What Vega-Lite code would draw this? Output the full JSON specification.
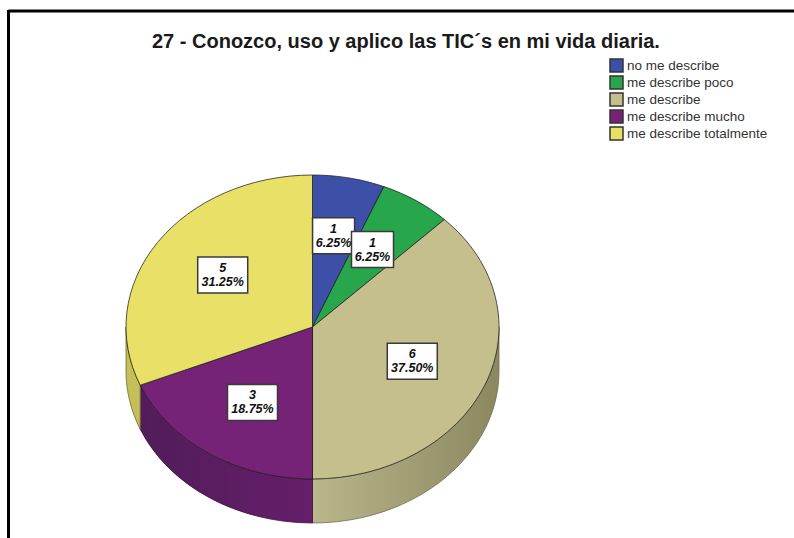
{
"$schema":"https://vega.github.io/schema/vega-lite/v6.json",
"width":794,"height":538,"padding":0,"autosize":{"type":"none"},"background":"white",
"config":{"view":{"stroke":null}},
"title":{"text":"27 - Conozco, uso y aplico las TIC´s en mi vida diaria.","anchor":"start","frame":"group","dx":152,"offset":-68,"baseline":"alphabetic","font":"Liberation Sans","fontSize":20,"fontWeight":"bold","color":"#1a1a1a"},
"data":{"values":[
{"categoria":"no me describe","conteo":1,"orden":1},
{"categoria":"me describe poco","conteo":1,"orden":2},
{"categoria":"me describe","conteo":6,"orden":3},
{"categoria":"me describe mucho","conteo":3,"orden":4},
{"categoria":"me describe totalmente","conteo":5,"orden":5}
]},
"transform":[
{"stack":"conteo","groupby":[],"sort":[{"field":"orden","order":"ascending"}],"as":["s0","s1"]},
{"calculate":"2*PI*datum.s0/16","as":"a0"},
{"calculate":"2*PI*datum.s1/16","as":"a1"},
{"calculate":"(datum.a0+datum.a1)/2","as":"am"},
{"calculate":"max(datum.a0,PI/2)","as":"w0"},
{"calculate":"min(datum.a1,3*PI/2)","as":"w1"},
{"calculate":"'M0,0L'+round(18650*sin(datum.a0))/100+','+round(-15200*cos(datum.a0))/100+'A186.5,152 0 '+(datum.a1-datum.a0>PI?1:0)+' 1 '+round(18650*sin(datum.a1))/100+','+round(-15200*cos(datum.a1))/100+'Z'","as":"cara"},
{"calculate":"'M'+round(18650*sin(datum.w0))/100+','+round(-15200*cos(datum.w0))/100+'A186.5,152 0 0 1 '+round(18650*sin(datum.w1))/100+','+round(-15200*cos(datum.w1))/100+'L'+round(18650*sin(datum.w1))/100+','+(round(-15200*cos(datum.w1))/100+44)+'A186.5,152 0 0 0 '+round(18650*sin(datum.w0))/100+','+(round(-15200*cos(datum.w0))/100+44)+'Z'","as":"pared"},
{"calculate":"312.5+108*sin(datum.am)","as":"lx"},
{"calculate":"326-92*cos(datum.am)","as":"ly"},
{"calculate":"datum.conteo<2?21:25","as":"hw"},
{"calculate":"datum.lx-datum.hw","as":"bx0"},
{"calculate":"datum.lx+datum.hw","as":"bx1"},
{"calculate":"datum.ly-18","as":"by0"},
{"calculate":"datum.ly+18","as":"by1"},
{"calculate":"format(datum.conteo/16,'.2%')","as":"pct"}
],
"layer":[
{"data":{"values":[{"marco":"izquierda"}]},"transform":[],"mark":{"type":"rule","stroke":"#000000","strokeWidth":3},
 "encoding":{"x":{"datum":8.5,"type":"quantitative","scale":{"domain":[0,794],"nice":false,"zero":false},"axis":null},"y":{"datum":10,"type":"quantitative","scale":{"domain":[538,0],"nice":false,"zero":false},"axis":null},"y2":{"datum":538}}},
{"data":{"values":[{"marco":"arriba"}]},"transform":[],"mark":{"type":"rule","stroke":"#000000","strokeWidth":3},
 "encoding":{"x":{"datum":8.5,"type":"quantitative"},"x2":{"datum":794},"y":{"datum":11,"type":"quantitative"}}},
{"transform":[{"filter":"datum.orden==3"}],"mark":{"type":"point","filled":true,"opacity":1,"stroke":"#6f6c50","strokeWidth":0.8,"fill":{"x1":0,"y1":0,"x2":1,"y2":0,"gradient":"linear","stops":[{"offset":0,"color":"#BAB68B"},{"offset":1,"color":"#8B8860"}]}},
 "encoding":{"x":{"datum":312.5,"type":"quantitative"},"y":{"datum":327,"type":"quantitative"},"size":{"value":4},"shape":{"field":"pared","type":"nominal","scale":null,"legend":null}}},
{"transform":[{"filter":"datum.orden==4"}],"mark":{"type":"point","filled":true,"opacity":1,"stroke":"#3d1040","strokeWidth":0.8,"fill":{"x1":0,"y1":0,"x2":1,"y2":0,"gradient":"linear","stops":[{"offset":0,"color":"#521C5A"},{"offset":1,"color":"#651E6A"}]}},
 "encoding":{"x":{"datum":312.5,"type":"quantitative"},"y":{"datum":327,"type":"quantitative"},"size":{"value":4},"shape":{"field":"pared","type":"nominal","scale":null,"legend":null}}},
{"transform":[{"filter":"datum.orden==5"}],"mark":{"type":"point","filled":true,"opacity":1,"stroke":"#6f6c30","strokeWidth":0.8,"fill":"#C6BE58"},
 "encoding":{"x":{"datum":312.5,"type":"quantitative"},"y":{"datum":327,"type":"quantitative"},"size":{"value":4},"shape":{"field":"pared","type":"nominal","scale":null,"legend":null}}},
{"mark":{"type":"point","filled":true,"opacity":1,"stroke":"#1c1c1c","strokeWidth":1,"strokeOpacity":0.75},
 "encoding":{"x":{"datum":312.5,"type":"quantitative"},"y":{"datum":327,"type":"quantitative"},"size":{"value":4},"shape":{"field":"cara","type":"nominal","scale":null,"legend":null},
 "fill":{"field":"categoria","type":"nominal","scale":{"domain":["no me describe","me describe poco","me describe","me describe mucho","me describe totalmente"],"range":["#3B50A6","#27A64B","#C5BF8D","#762276","#E9E068"]},
 "legend":{"title":null,"orient":"none","legendX":609,"legendY":58,"symbolType":"square","symbolSize":169,"symbolStrokeColor":"#333333","symbolStrokeWidth":1.5,"symbolOpacity":1,"labelFont":"Liberation Sans","labelFontSize":13.5,"labelColor":"#333333","labelOffset":3,"rowPadding":-2,"padding":0,"labelLimit":200}}}},
{"mark":{"type":"rect","fill":"#ffffff","stroke":"#3a3a3a","strokeWidth":1.5,"opacity":1},
 "encoding":{"x":{"field":"bx0","type":"quantitative"},"x2":{"field":"bx1"},"y":{"field":"by0","type":"quantitative"},"y2":{"field":"by1"}}},
{"mark":{"type":"text","font":"Liberation Sans","fontSize":12.5,"fontWeight":"bold","fontStyle":"italic","color":"#111111","align":"center","baseline":"alphabetic","dy":-3},
 "encoding":{"x":{"field":"lx","type":"quantitative"},"y":{"field":"ly","type":"quantitative"},"text":{"field":"conteo","type":"nominal"}}},
{"mark":{"type":"text","font":"Liberation Sans","fontSize":12.5,"fontWeight":"bold","fontStyle":"italic","color":"#111111","align":"center","baseline":"alphabetic","dy":11},
 "encoding":{"x":{"field":"lx","type":"quantitative"},"y":{"field":"ly","type":"quantitative"},"text":{"field":"pct","type":"nominal"}}}
]
}
